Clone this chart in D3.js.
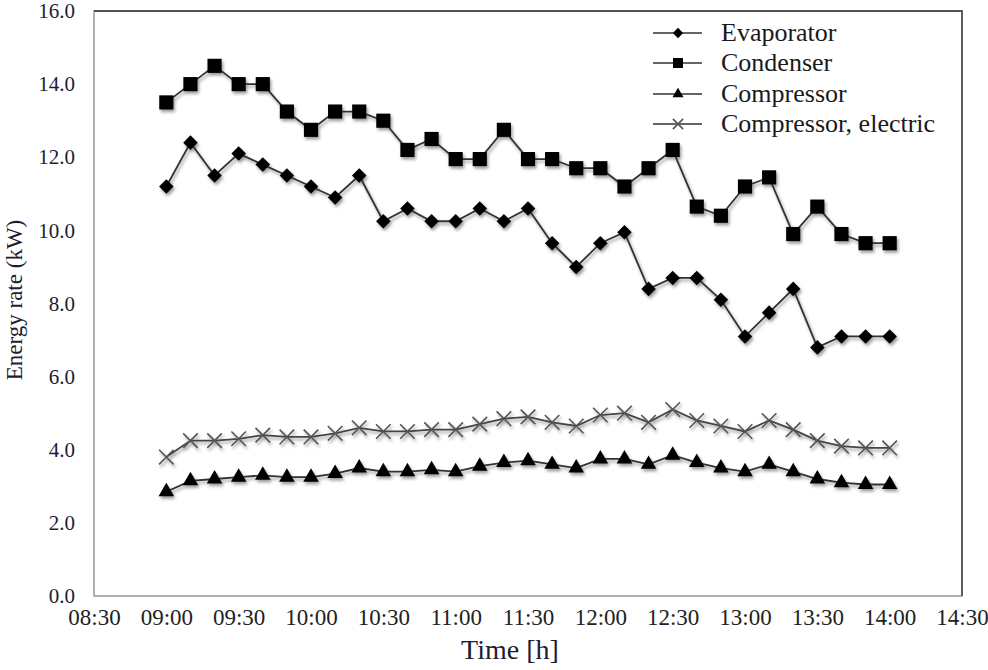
<!DOCTYPE html>
<html>
<head>
<meta charset="utf-8">
<script src="https://cdn.jsdelivr.net/npm/d3@7/dist/d3.min.js"></script>
<style>
html,body{margin:0;padding:0;background:#fff;}
svg{display:block;}
</style>
</head>
<body>
<svg id="chart" width="988" height="670"></svg>
<script>
const times = ["09:00","09:10","09:20","09:30","09:40","09:50","10:00","10:10","10:20","10:30","10:40","10:50","11:00","11:10","11:20","11:30","11:40","11:50","12:00","12:10","12:20","12:30","12:40","12:50","13:00","13:10","13:20","13:30","13:40","13:50","14:00"];
const evaporator = [11.2,12.4,11.5,12.1,11.8,11.5,11.2,10.9,11.5,10.25,10.6,10.25,10.25,10.6,10.25,10.6,9.65,9.0,9.65,9.95,8.4,8.7,8.7,8.1,7.1,7.75,8.4,6.8,7.1,7.1,7.1];
const condenser = [13.5,14.0,14.5,14.0,14.0,13.25,12.75,13.25,13.25,13.0,12.2,12.5,11.95,11.95,12.75,11.95,11.95,11.7,11.7,11.2,11.7,12.2,10.65,10.4,11.2,11.45,9.9,10.65,9.9,9.65,9.65];
const compressor = [2.85,3.15,3.2,3.25,3.3,3.25,3.25,3.35,3.5,3.4,3.4,3.45,3.4,3.55,3.65,3.7,3.6,3.5,3.75,3.75,3.6,3.85,3.65,3.5,3.4,3.6,3.4,3.2,3.1,3.05,3.05];
const compressorElectric = [3.8,4.25,4.25,4.3,4.4,4.35,4.35,4.45,4.6,4.5,4.5,4.55,4.55,4.7,4.85,4.9,4.75,4.65,4.95,5.0,4.75,5.1,4.8,4.65,4.5,4.8,4.55,4.25,4.1,4.05,4.05];
const seriesNames = ["Evaporator","Condenser","Compressor","Compressor, electric"];
const xTickLabels = ["08:30","09:00","09:30","10:00","10:30","11:00","11:30","12:00","12:30","13:00","13:30","14:00","14:30"];
const yTicks = [0,2,4,6,8,10,12,14,16];

const toMin = s => { const [h,m] = s.split(":").map(Number); return h*60+m; };

const svg = d3.select("#chart");
const margin = {left:94, top:11, right:962, bottom:596};
const x = d3.scaleLinear().domain([toMin("08:30"), toMin("14:30")]).range([margin.left, margin.right]);
const y = d3.scaleLinear().domain([0,16]).range([margin.bottom, margin.top]);
const font = "'Liberation Serif', 'Times New Roman', serif";

const defs = svg.append("defs");
const f = defs.append("filter").attr("id","shadow").attr("x","-50%").attr("y","-50%").attr("width","200%").attr("height","200%");
f.append("feDropShadow").attr("dx",1.5).attr("dy",2.5).attr("stdDeviation",1.6).attr("flood-color","#000").attr("flood-opacity",0.4);

svg.append("rect").attr("x",margin.left).attr("y",margin.top)
  .attr("width",margin.right-margin.left).attr("height",margin.bottom-margin.top)
  .attr("fill","none").attr("stroke","#888").attr("stroke-width",1.3);
svg.append("path").attr("d",`M${margin.left},${margin.top}H${margin.right}V${margin.bottom}`)
  .attr("fill","none").attr("stroke","#333").attr("stroke-width",1.3);

const yAxis = d3.axisLeft(y).tickValues(yTicks).tickFormat(d3.format(".1f")).tickSize(0).tickPadding(19);
const gy = svg.append("g").attr("transform",`translate(${margin.left},0)`).call(yAxis);
gy.attr("font-family",font).attr("font-size",21);
gy.select(".domain").remove();
gy.selectAll("text").attr("font-size",21).attr("fill","#1d1d33");

const xAxis = d3.axisBottom(x).tickValues(xTickLabels.map(toMin)).tickFormat((d,i)=>xTickLabels[i]).tickSize(0).tickPadding(13);
const gx = svg.append("g").attr("transform",`translate(0,${margin.bottom})`).call(xAxis);
gx.attr("font-family",font).attr("font-size",23);
gx.select(".domain").remove();
gx.selectAll("text").attr("font-size",23).attr("fill","#222");

svg.append("text").attr("x",510).attr("y",659).attr("text-anchor","middle").attr("font-family",font)
  .attr("font-size",28).attr("fill","#1d1d33").text("Time [h]");
svg.append("text").attr("transform","translate(22,300) rotate(-90)").attr("text-anchor","middle").attr("font-family",font)
  .attr("font-size",23).attr("fill","#1d1d33").text("Energy rate (kW)");

const dataSets = [evaporator, condenser, compressor, compressorElectric];
const diamond = { draw(ctx, size){ const r = Math.sqrt(size)/2*1.3; ctx.moveTo(0,-r); ctx.lineTo(r,0); ctx.lineTo(0,r); ctx.lineTo(-r,0); ctx.closePath(); } };
const shapes = [diamond, d3.symbolSquare, d3.symbolTriangle, d3.symbolTimes];
const sizes = [125, 200, 105, 140];
const line = d3.line().x((d,i)=>x(toMin(times[i]))).y(d=>y(d));

function marker(g, k, cx, cy, scale){
  const sym = d3.symbol().type(shapes[k]).size(sizes[k]*(scale||1));
  const p = g.append("path").attr("d",sym()).attr("transform",`translate(${cx},${cy})`);
  if(k===3){ p.attr("fill","none").attr("stroke","#555").attr("stroke-width",1.6); }
  else { p.attr("fill","#000"); }
  return p;
}

dataSets.forEach((vals,k)=>{
  const g = svg.append("g").attr("filter","url(#shadow)");
  g.append("path").datum(vals).attr("d",line).attr("fill","none")
    .attr("stroke", k===3 ? "#444" : "#333").attr("stroke-width",1.8);
  vals.forEach((v,i)=>marker(g,k,x(toMin(times[i])),y(v)));
});

const legY = [33,63,94,124];
seriesNames.forEach((name,k)=>{
  const g = svg.append("g");
  g.append("line").attr("x1",653).attr("x2",702).attr("y1",legY[k]).attr("y2",legY[k])
    .attr("stroke","#333").attr("stroke-width",1.5);
  marker(g,k,678,legY[k],0.5);
  g.append("text").attr("x",721).attr("y",legY[k]+8).attr("font-family",font)
    .attr("font-size",26).attr("fill","#1a1a1a").text(name);
});
</script>
</body>
</html>
